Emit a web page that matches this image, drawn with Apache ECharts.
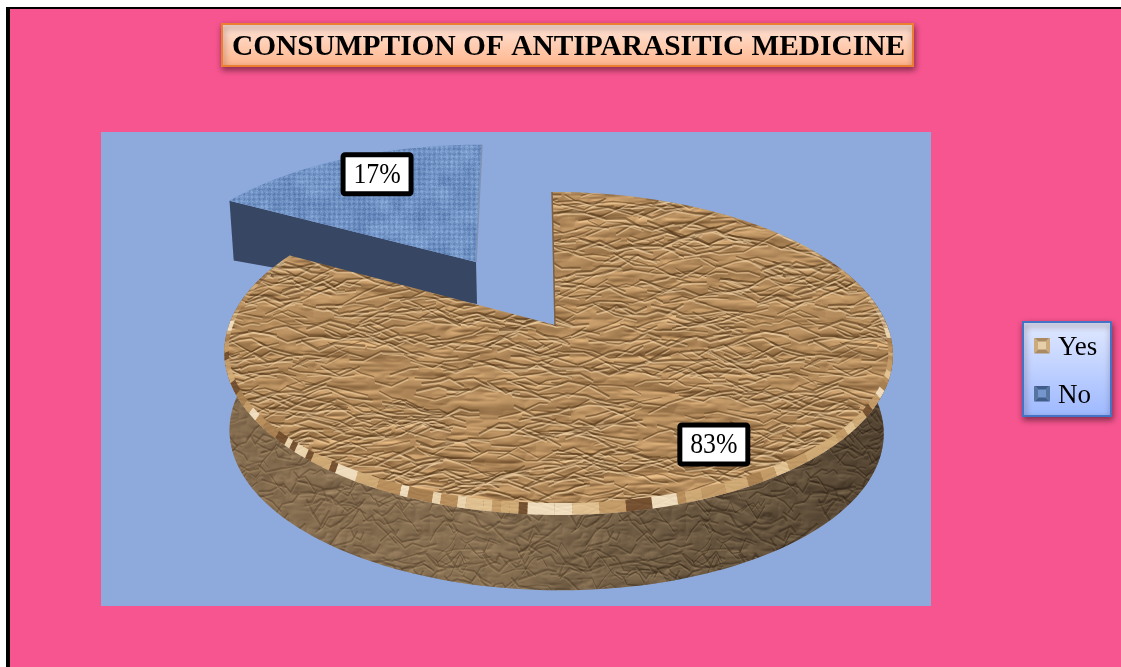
<!DOCTYPE html>
<html>
<head>
<meta charset="utf-8">
<style>
  html, body { margin: 0; padding: 0; background: #fff; }
  #chart { width: 1121px; height: 667px; }
</style>
<script src="https://cdn.jsdelivr.net/npm/echarts@6/dist/echarts.min.js"></script>
</head>
<body>
<div id="chart"></div>
<script>
// Chart content
const chartTitle = 'CONSUMPTION OF ANTIPARASITIC MEDICINE';
const categories = ['Yes', 'No'];
const shares = [83, 17];

const SERIF = '"Liberation Serif", "Times New Roman", serif';

// Repeatable pseudo-noise used only for surface textures
function hash(i, j) {
  const s = Math.sin(i * 127.1 + j * 311.7) * 43758.5453;
  return s - Math.floor(s);
}
function smooth(t) { return t * t * (3 - 2 * t); }
function tileNoise(x, y, px, py) {
  const xi = Math.floor(x), yi = Math.floor(y);
  const fx = smooth(x - xi), fy = smooth(y - yi);
  const w = (a, n) => ((a % n) + n) % n;
  const a = hash(w(xi, px), w(yi, py)), b = hash(w(xi + 1, px), w(yi, py));
  const c = hash(w(xi, px), w(yi + 1, py)), d = hash(w(xi + 1, px), w(yi + 1, py));
  return a + (b - a) * fx + (c - a) * fy + (a - b - c + d) * fx * fy;
}

// Crumpled paper: ridged noise lit from above, then jagged creases on top
function crumpleTexture(opts) {
  const { size, base, contrast, fx, fy, creases, spread, reach, dark, light, seed } = opts;
  const cv = document.createElement('canvas');
  cv.width = cv.height = size;
  const ctx = cv.getContext('2d');
  const img = ctx.createImageData(size, size);
  const h = new Float32Array(size * size);
  const octaves = [[fx, fy, 1], [fx * 2, fy * 2, 0.55], [fx * 4, fy * 4, 0.3]];
  for (let y = 0; y < size; y++) {
    for (let x = 0; x < size; x++) {
      let v = 0;
      const warp = tileNoise(x / size * 5, y / size * 5, 5, 5) * 1.6;
      for (const [ox, oy, amp] of octaves) {
        const n = tileNoise(x / size * ox + warp, y / size * oy + warp, ox, oy);
        v += amp * (1 - Math.abs(2 * n - 1));
      }
      h[y * size + x] = v;
    }
  }
  for (let y = 0; y < size; y++) {
    for (let x = 0; x < size; x++) {
      const nb = h[((y + 2) % size) * size + ((x + 1) % size)];
      const l = (h[y * size + x] - nb) * contrast;
      const p = (y * size + x) * 4;
      img.data[p] = base[0] + l;
      img.data[p + 1] = base[1] + l * 0.9;
      img.data[p + 2] = base[2] + l * 0.72;
      img.data[p + 3] = 255;
    }
  }
  ctx.putImageData(img, 0, 0);

  ctx.lineJoin = 'round';
  ctx.lineCap = 'round';
  ctx.filter = 'blur(0.6px)';
  const offsets = [-size, 0, size];
  for (let c = 0; c < creases; c++) {
    let x = hash(c, seed) * size, y = hash(seed, c + 11) * size;
    const segs = 2 + Math.floor(hash(c, seed + 2) * 4);
    const pts = [[x, y]];
    for (let s = 0; s < segs; s++) {
      const ang = (hash(c + s * 17, seed + 5) - 0.5) * spread;
      const len = reach * (0.4 + hash(c + s * 29, seed + 9));
      x += Math.cos(ang) * len;
      y += Math.sin(ang) * len;
      pts.push([x, y]);
    }
    const width = 0.8 + hash(c, seed + 13) * 1.5;
    // Only draw the wrapped copies that can touch the tile
    for (const ox of offsets) {
      for (const oy of offsets) {
        if (!pts.some(q => q[0] + ox > -6 && q[0] + ox < size + 6 && q[1] + oy > -6 && q[1] + oy < size + 6)) continue;
        const stroke = (col, shift) => {
          ctx.strokeStyle = col;
          ctx.lineWidth = width;
          ctx.beginPath();
          pts.forEach((q, i) => {
            const px = q[0] + ox, py = q[1] + oy + shift;
            if (i) ctx.lineTo(px, py); else ctx.moveTo(px, py);
          });
          ctx.stroke();
        };
        stroke(light, 1.8);
        stroke(dark, 0);
      }
    }
  }
  return cv;
}

// Woven cloth for the smaller slice
function clothTexture(size) {
  const cv = document.createElement('canvas');
  cv.width = cv.height = size;
  const ctx = cv.getContext('2d');
  const img = ctx.createImageData(size, size);
  for (let y = 0; y < size; y++) {
    for (let x = 0; x < size; x++) {
      const weave = Math.sin(x * Math.PI / 2.5) * 0.6 + Math.sin(y * Math.PI / 2.5) * 0.6;
      const blot = tileNoise(x / 12, y / 12, size / 12, size / 12) - 0.5;
      const fine = hash(x, y) - 0.5;
      const l = weave * 15 + blot * 26 + fine * 20;
      const p = (y * size + x) * 4;
      img.data[p] = 112 + l;
      img.data[p + 1] = 146 + l;
      img.data[p + 2] = 196 + l * 0.9;
      img.data[p + 3] = 255;
    }
  }
  ctx.putImageData(img, 0, 0);
  return cv;
}

// Bevelled legend swatch; the clear strip below lifts it slightly against its text
function swatch(light, mid, dark) {
  const cv = document.createElement('canvas');
  cv.width = 16;
  cv.height = 20;
  const ctx = cv.getContext('2d');
  const tri = (pts, col) => {
    ctx.fillStyle = col;
    ctx.beginPath();
    pts.forEach((q, i) => i ? ctx.lineTo(q[0], q[1]) : ctx.moveTo(q[0], q[1]));
    ctx.closePath();
    ctx.fill();
  };
  tri([[0, 0], [16, 0], [12, 4], [4, 4]], dark);
  tri([[0, 16], [16, 16], [12, 12], [4, 12]], dark);
  tri([[0, 0], [0, 16], [4, 12], [4, 4]], mid);
  tri([[16, 0], [16, 16], [12, 12], [12, 4]], mid);
  ctx.fillStyle = light;
  ctx.fillRect(4, 4, 8, 8);
  return cv.toDataURL();
}

const paperPattern = {
  image: crumpleTexture({
    size: 512, base: [176, 136, 90], contrast: 110, fx: 8, fy: 30,
    creases: 1100, spread: 1.1, reach: 18,
    dark: 'rgba(88,58,28,0.55)', light: 'rgba(238,208,164,0.55)', seed: 3
  }),
  repeat: 'repeat'
};
const wallPattern = {
  image: crumpleTexture({
    size: 256, base: [116, 96, 72], contrast: 70, fx: 9, fy: 14,
    creases: 300, spread: 2.4, reach: 12,
    dark: 'rgba(50,36,22,0.45)', light: 'rgba(170,145,112,0.35)', seed: 8
  }),
  repeat: 'repeat'
};
const clothPattern = { image: clothTexture(240), repeat: 'repeat' };

// Perspective disc: angle is clockwise from the far side, r from 0 to 1
function project(d, deg, r, lift) {
  const t = deg * Math.PI / 180;
  const u = r * Math.sin(t), v = r * Math.cos(t);
  const w = 1 + d.persp * v;
  const bow = 1 + (d.bow || 0) * u;
  return [
    d.cx + (d.kx * u * bow + d.shear * v) / w,
    d.cy - d.ky * v / w - (lift || 0) * Math.max(0, -v)
  ];
}
function arc(d, from, to, r, lift) {
  const pts = [];
  const n = Math.max(2, Math.ceil(Math.abs(to - from) / 1.5));
  for (let i = 0; i <= n; i++) pts.push(project(d, from + (to - from) * i / n, r, lift));
  return pts;
}

// Top and underside of the large slice
const bigTop = { cx: 555, cy: 325, kx: 329, ky: 156.5, persp: 0.176, shear: -3.5, bow: 0.009 };
const bigBase = { cx: 556, cy: 404, kx: 322, ky: 153.5, persp: 0.176, shear: -3.5 };
// Exploded slice sits further back, so it draws a little smaller
const smallTop = { cx: 476, cy: 262, kx: 309, ky: 138, persp: 0.176, shear: 7 };
const smallBase = { cx: 477, cy: 304, kx: 305, ky: 98, persp: 0.176, shear: 7 };

const rimColours = ['#f1dcb6', '#d2ad78', '#b98f5c', '#e6c796', '#6f4b2c', '#c49c68', '#f5e4c6', '#a87f50'];

// Value tag: black-edged white box with slightly condensed figures
function labelEls(p, dx, dy, value) {
  const x = p[0] + dx, y = p[1] + dy;
  return [
    {
      type: 'rect',
      shape: { x: x - 34, y: y - 19.5, width: 68, height: 39, r: 2 },
      style: { fill: '#fff', stroke: '#000', lineWidth: 5 },
      z2: 50
    },
    {
      type: 'text',
      x: x, y: y + 1,
      scaleX: 0.86,
      style: {
        text: value + '%',
        font: '30px ' + SERIF,
        fill: '#000',
        align: 'center',
        verticalAlign: 'middle'
      },
      z2: 51
    }
  ];
}

function renderYes(params, api) {
  const sweep = api.value(0) * 3.6;
  const children = [];
  // Outer wall between the two rims
  const wallFrom = 68, wallTo = 292;
  const wall = arc(bigTop, wallFrom, wallTo, 1).concat(arc(bigBase, wallTo, wallFrom, 1));
  children.push({ type: 'polygon', shape: { points: wall }, style: { fill: wallPattern }, z2: 1 });
  children.push({
    type: 'polygon', shape: { points: wall },
    style: {
      fill: {
        type: 'linear', x: 0, y: 0, x2: 1, y2: 0,
        colorStops: [
          { offset: 0, color: 'rgba(170,135,95,0.28)' },
          { offset: 0.4, color: 'rgba(190,155,110,0.24)' },
          { offset: 0.75, color: 'rgba(50,40,25,0.2)' },
          { offset: 1, color: 'rgba(30,22,14,0.4)' }
        ]
      }
    },
    z2: 2
  });
  // Top face
  const face = [project(bigTop, 0, 0)].concat(arc(bigTop, 0, sweep, 1));
  children.push({ type: 'polygon', shape: { points: face }, style: { fill: paperPattern }, z2: 3 });
  // Bevelled rim, cut into short tiles; it reads deepest on the near side
  const stepDeg = 1.3;
  for (let i = 0, a = 0; a < sweep - 0.01; i++) {
    const span = Math.min(stepDeg * (1 + Math.floor(hash(i, 3) * 3)), sweep - a);
    const c = Math.cos(a * Math.PI / 180);
    const q = arc(bigTop, a, a + span, 1).concat(arc(bigTop, a + span, a, 0.987, 9));
    children.push({
      type: 'polygon', shape: { points: q },
      style: { fill: rimColours[Math.floor(hash(i, 7) * rimColours.length)], opacity: c < 0 ? 0.9 : 0.45 },
      z2: 4
    });
    a += span;
  }
  // Thin cut face along the near-vertical edge
  children.push({
    type: 'polyline',
    shape: { points: [project(bigTop, 0, 1), project(bigTop, 0, 0)] },
    style: { stroke: '#7d6244', lineWidth: 1.5, fill: 'none' },
    z2: 5
  });
  children.push(...labelEls(project(bigTop, sweep / 2, 0.825), -2.5, -7.5, api.value(0)));
  return { type: 'group', children };
}

function renderNo(params, api) {
  const sweep = api.value(0) * 3.6;
  const end = 360, start = end - sweep;
  const children = [];
  const sideShape = [
    project(smallTop, 0, 0), project(smallTop, start, 1),
    project(smallBase, start, 1), project(smallBase, 0, 0)
  ];
  children.push({ type: 'polygon', shape: { points: sideShape }, style: { fill: '#374662' }, z2: 1 });
  const face = [project(smallTop, 0, 0)].concat(arc(smallTop, start, end, 1));
  children.push({ type: 'polygon', shape: { points: face }, style: { fill: clothPattern }, z2: 2 });
  children.push({
    type: 'polyline',
    shape: { points: [project(smallTop, end, 1), project(smallTop, 0, 0)] },
    style: { stroke: '#7f93b4', lineWidth: 1.5, fill: 'none' },
    z2: 3
  });
  children.push(...labelEls(project(smallTop, start + sweep / 2, 0.8), 9, -3, api.value(0)));
  return { type: 'group', children };
}

const chart = echarts.init(document.getElementById('chart'), null, { renderer: 'canvas' });
chart.setOption({
  backgroundColor: '#ffffff',
  animation: false,
  title: {
    text: chartTitle,
    left: 563.5,
    top: 28,
    textAlign: 'center',
    textStyle: { fontFamily: SERIF, fontWeight: 'bold', fontSize: 29.4, color: '#000' }
  },
  legend: {
    orient: 'vertical',
    left: 1034,
    top: 334,
    padding: 0,
    itemWidth: 16,
    itemHeight: 20,
    itemGap: 21,
    selectedMode: false,
    textStyle: { fontFamily: SERIF, fontSize: 27, color: '#000', padding: [0, 0, 0, 3] },
    data: [
      { name: categories[0], icon: 'image://' + swatch('#e6cfa8', '#cbaa7b', '#a98a62') },
      { name: categories[1], icon: 'image://' + swatch('#7496cc', '#55749f', '#3f5c8a') }
    ]
  },
  graphic: {
    elements: [
      // Page frame
      { type: 'rect', shape: { x: 6, y: 7, width: 1115, height: 660 }, style: { fill: '#000' }, z: 0, silent: true },
      { type: 'rect', shape: { x: 10, y: 9, width: 1111, height: 658 }, style: { fill: '#F75590' }, z: 0, silent: true },
      // Plot backdrop
      { type: 'rect', shape: { x: 101, y: 132, width: 830, height: 474 }, style: { fill: '#8EA9DB' }, z: 0, silent: true },
      // Title plate
      {
        type: 'rect', shape: { x: 222, y: 24, width: 691, height: 42 },
        style: {
          fill: {
            type: 'linear', x: 0, y: 0, x2: 0, y2: 1,
            colorStops: [{ offset: 0, color: '#FFE6DA' }, { offset: 1, color: '#FFB48A' }]
          },
          stroke: '#ED7D31', lineWidth: 2,
          shadowBlur: 6, shadowOffsetX: 1, shadowOffsetY: 3, shadowColor: 'rgba(60,20,30,0.6)'
        },
        z: 1, silent: true
      },
      // Legend plate
      {
        type: 'rect', shape: { x: 1023, y: 322, width: 88, height: 94 },
        style: {
          fill: {
            type: 'linear', x: 0, y: 0, x2: 0, y2: 1,
            colorStops: [{ offset: 0, color: '#E2EAFF' }, { offset: 1, color: '#9DB8FF' }]
          },
          stroke: '#4472C4', lineWidth: 2,
          shadowBlur: 6, shadowOffsetX: 1, shadowOffsetY: 3, shadowColor: 'rgba(60,20,30,0.6)'
        },
        z: 1, silent: true
      }
    ]
  },
  series: [
    { type: 'custom', name: categories[1], coordinateSystem: 'none', renderItem: renderNo, data: [[shares[1]]], silent: true, z: 2 },
    { type: 'custom', name: categories[0], coordinateSystem: 'none', renderItem: renderYes, data: [[shares[0]]], silent: true, z: 3 }
  ]
});
</script>
</body>
</html>
